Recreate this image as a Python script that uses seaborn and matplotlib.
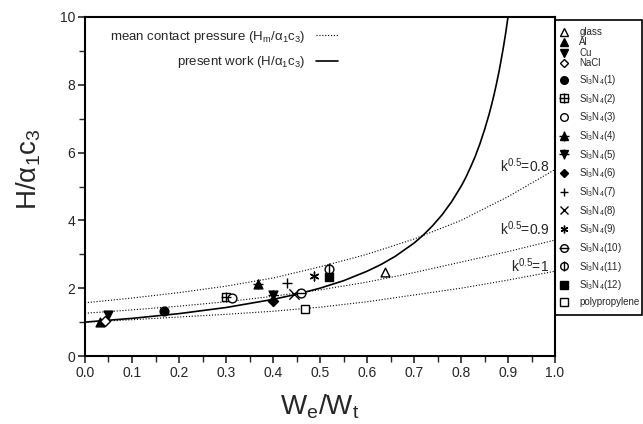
import matplotlib
matplotlib.use('Agg')
import matplotlib.pyplot as plt
from matplotlib.lines import Line2D
from matplotlib.patches import Rectangle
import seaborn as sns

# measured points (We/Wt, H/a1c3)
materials = ['glass', 'Al', 'Cu', 'NaCl',
             'Si$_3$N$_4$(1)', 'Si$_3$N$_4$(2)', 'Si$_3$N$_4$(3)', 'Si$_3$N$_4$(4)',
             'Si$_3$N$_4$(5)', 'Si$_3$N$_4$(6)', 'Si$_3$N$_4$(7)', 'Si$_3$N$_4$(8)',
             'Si$_3$N$_4$(9)', 'Si$_3$N$_4$(10)', 'Si$_3$N$_4$(11)', 'Si$_3$N$_4$(12)',
             'polypropylene']
we_wt = [0.638, 0.032, 0.048, 0.043, 0.169, 0.301, 0.312, 0.369, 0.401, 0.401,
         0.429, 0.445, 0.488, 0.460, 0.519, 0.519, 0.468]
h_ac = [2.47, 1.00, 1.20, 1.04, 1.32, 1.75, 1.70, 2.12, 1.80, 1.61,
        2.16, 1.82, 2.37, 1.85, 2.57, 2.33, 1.38]

# curves
curve_x = [0.0, 0.1, 0.2, 0.3, 0.4, 0.5, 0.6, 0.7, 0.8, 0.9, 1.0]
k08 = [1.57, 1.71, 1.87, 2.06, 2.30, 2.63, 3.00, 3.45, 4.00, 4.70, 5.50]
k09 = [1.26, 1.36, 1.47, 1.60, 1.76, 1.95, 2.18, 2.46, 2.77, 3.08, 3.42]
k10 = [1.00, 1.07, 1.15, 1.23, 1.32, 1.44, 1.60, 1.80, 2.00, 2.24, 2.50]
work_x = [0.0, 0.1, 0.2, 0.3, 0.4, 0.45, 0.5, 0.55, 0.6, 0.63, 0.66, 0.7, 0.72,
          0.74, 0.76, 0.78, 0.8, 0.81, 0.82, 0.83, 0.84, 0.85, 0.86, 0.865, 0.87,
          0.875, 0.88, 0.885, 0.89, 0.895, 0.9]
work_y = [1.00, 1.11, 1.25, 1.43, 1.67, 1.82, 2.00, 2.22, 2.50, 2.70, 2.94, 3.33, 3.57,
          3.85, 4.17, 4.55, 5.00, 5.26, 5.56, 5.88, 6.25, 6.67, 7.14, 7.41, 7.69,
          8.00, 8.33, 8.70, 9.09, 9.52, 10.0]

# marker style per material: (marker, filled, overlay marker)
styles = [('^', False, None), ('^', True, None), ('v', True, None), ('D', False, None),
          ('o', True, None), ('s', False, '+'), ('o', False, None), ('^', True, '+'),
          ('v', True, '+'), ('D', True, None), ('+', True, None), ('x', True, None),
          ((6, 2, 0), True, None), ('o', False, '_'), ('o', False, '|'), ('s', True, None),
          ('s', False, None)]

sns.set_style('white')
plt.rcParams['font.family'] = ['Liberation Sans', 'DejaVu Sans']
plt.rcParams['mathtext.fontset'] = 'custom'
plt.rcParams['mathtext.rm'] = 'Liberation Sans'
plt.rcParams['mathtext.it'] = 'Liberation Sans:italic'

fig = plt.figure(figsize=(6.43, 4.24), dpi=100)
ax = fig.add_axes([85 / 643, 68 / 424, 470 / 643, 339 / 424])

dot = (0, (1, 1.6))
for yy in [k08, k09, k10]:
    sns.lineplot(x=curve_x, y=yy, color='k', lw=0.8, linestyle=dot, ax=ax)
sns.lineplot(x=work_x, y=work_y, color='k', lw=1.2, ax=ax)

handles = []
for i, (m, filled, over) in enumerate(styles):
    fc = 'k' if filled else 'white'
    ms = 40 if m not in ('+', 'x') else 55
    if m == 'D':
        ms = 26
    sns.scatterplot(x=[we_wt[i]], y=[h_ac[i]], marker=m, s=ms, color='k',
                    facecolor=fc, edgecolor='k', linewidth=1.0, zorder=5, ax=ax)
    h = Line2D([], [], ls='none', marker=m, color='k', mfc=fc, mec='k',
               ms=5.5 if m != 'D' else 4.3, mew=1.0)
    if over is not None:
        osz = 55 if over != '|' else 70
        sns.scatterplot(x=[we_wt[i]], y=[h_ac[i]], marker=over, s=osz, color='k',
                        linewidth=1.0, zorder=6, ax=ax)
        h = (h, Line2D([], [], ls='none', marker=over, color='k', ms=6.5, mew=1.0))
    handles.append(h)

ax.set_xlim(0, 1)
ax.set_ylim(0, 10)
ax.xaxis.set_major_locator(matplotlib.ticker.MultipleLocator(0.1))
ax.xaxis.set_minor_locator(matplotlib.ticker.MultipleLocator(0.05))
ax.yaxis.set_major_locator(matplotlib.ticker.MultipleLocator(2))
ax.yaxis.set_minor_locator(matplotlib.ticker.MultipleLocator(1))
ax.tick_params(which='major', direction='out', length=5, width=1.2, labelsize=10,
               bottom=True, left=True, pad=2)
ax.tick_params(which='minor', direction='out', length=4, width=1.0, bottom=True, left=True)
for sp in ax.spines.values():
    sp.set_linewidth(1.5)
    sp.set_color('k')

ax.set_xlabel('W$_\\mathrm{e}$/W$_\\mathrm{t}$', fontsize=20, labelpad=9)
ax.set_ylabel('H/α$_1$c$_3$', fontsize=20)
ax.yaxis.set_label_coords(-0.09, 0.55)

# k labels
ax.text(0.988, 5.6, 'k$^{0.5}$=0.8', ha='right', va='center', fontsize=10)
ax.text(0.988, 3.75, 'k$^{0.5}$=0.9', ha='right', va='center', fontsize=10)
ax.text(0.988, 2.65, 'k$^{0.5}$=1', ha='right', va='center', fontsize=10)

# curve legend
curve_handles = [Line2D([], [], color='k', lw=0.8, linestyle=dot),
                 Line2D([], [], color='k', lw=1.2)]
ax.legend(curve_handles,
          ['mean contact pressure (H$_\\mathrm{m}$/α$_1$c$_3$)', 'present work (H/α$_1$c$_3$)'],
          loc='upper right', bbox_to_anchor=(338 / 643, 1 - 29 / 424),
          bbox_transform=fig.transFigure, markerfirst=False, frameon=False,
          fontsize=9.5, labelspacing=0.7, handlelength=1.7, handletextpad=0.8,
          borderpad=0, borderaxespad=0)

# material legend box on the right
fig.patches.append(Rectangle((555 / 643, 109 / 424), 87 / 643, 295 / 424,
                             transform=fig.transFigure, fill=False, lw=1.2,
                             edgecolor='k'))
fig.legend(handles[:4], materials[:4], loc='upper left',
           bbox_to_anchor=(558 / 643, 1 - 27 / 424), frameon=False, fontsize=7,
           labelspacing=0.05, handlelength=1.3, handletextpad=0.9,
           borderpad=0, borderaxespad=0)
fig.legend(handles[4:], materials[4:], loc='upper left',
           bbox_to_anchor=(558 / 643, 1 - 73 / 424), frameon=False, fontsize=7,
           labelspacing=0.48, handlelength=1.3, handletextpad=0.9,
           borderpad=0, borderaxespad=0)

fig.savefig('out.png', dpi=100)
